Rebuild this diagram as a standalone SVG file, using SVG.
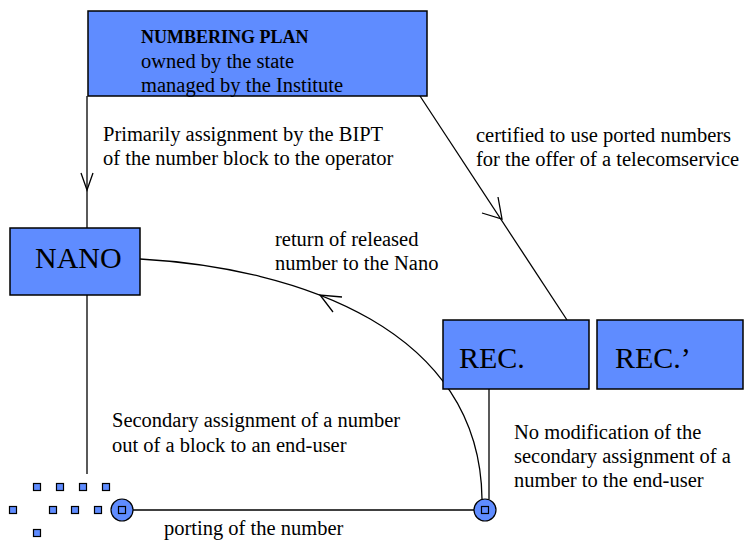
<svg xmlns="http://www.w3.org/2000/svg" width="744" height="540" viewBox="0 0 744 540">
<style>
.box{fill:#5f8cff;stroke:#000;stroke-width:1.5}
.ln{fill:none;stroke:#000;stroke-width:1.3}
.t{font-family:"Liberation Serif","Times New Roman",serif;font-size:20.5px;fill:#000}
.tb{font-family:"Liberation Serif","Times New Roman",serif;font-size:18px;font-weight:bold;fill:#000}
.big{font-family:"Liberation Serif","Times New Roman",serif;font-size:30px;fill:#000}
.dot{fill:#5f8cff;stroke:#000;stroke-width:1.2}
</style>
<rect width="744" height="540" fill="#fff"/>
<g id="connectors">
<line class="ln" x1="87" y1="96" x2="87" y2="228"/>
<polyline class="ln" points="81,173 87,190 93,173"/>
<line class="ln" x1="420" y1="96" x2="567" y2="320"/>
<polyline class="ln" points="482,213 502,219 498,197"/>
<line class="ln" x1="87" y1="295" x2="87" y2="474"/>
<path class="ln" d="M140,259 C300,268 480,330 482,499"/>
<polyline class="ln" points="342,297 320,295 333,312"/>
<line class="ln" x1="489" y1="389" x2="489" y2="499"/>
<line class="ln" x1="133" y1="510" x2="474" y2="510"/>
</g>
<g id="plan">
<rect class="box" x="88" y="11" width="339" height="85"/>
<text class="tb" x="141" y="43">NUMBERING PLAN</text>
<text class="t" x="141" y="68">owned by the state</text>
<text class="t" x="141" y="92">managed by the Institute</text>
</g>
<g id="nano">
<rect class="box" x="10" y="228" width="130" height="67"/>
<text class="big" x="35" y="268">NANO</text>
</g>
<g id="rec">
<rect class="box" x="443" y="320" width="146" height="69"/>
<text class="big" x="459" y="368">REC.</text>
</g>
<g id="rec2">
<rect class="box" x="597" y="320" width="146" height="69"/>
<text class="big" x="615" y="368">REC.’</text>
</g>
<g id="node-left">
<circle class="dot" cx="122" cy="510" r="11"/>
<rect class="dot" x="118.5" y="506.5" width="7" height="7"/>
</g>
<g id="node-right">
<circle class="dot" cx="485" cy="510" r="11"/>
<rect class="dot" x="481.5" y="506.5" width="7" height="7"/>
</g>
<g id="dots">
<rect class="dot" x="33.5" y="483.5" width="7" height="7"/>
<rect class="dot" x="56.5" y="483.5" width="7" height="7"/>
<rect class="dot" x="79.5" y="483.5" width="7" height="7"/>
<rect class="dot" x="102.5" y="483.5" width="7" height="7"/>
<rect class="dot" x="9.5" y="506.5" width="7" height="7"/>
<rect class="dot" x="49.5" y="506.5" width="7" height="7"/>
<rect class="dot" x="71.5" y="506.5" width="7" height="7"/>
<rect class="dot" x="94.5" y="506.5" width="7" height="7"/>
<rect class="dot" x="33.5" y="529.5" width="7" height="7"/>
</g>
<g id="labels">
<text class="t" x="103" y="141">Primarily assignment by the BIPT</text>
<text class="t" x="103" y="165">of the number block to the operator</text>
<text class="t" x="476" y="142">certified to use ported numbers</text>
<text class="t" x="476" y="166">for the offer of a telecomservice</text>
<text class="t" x="275" y="246">return of released</text>
<text class="t" x="275" y="270">number to the Nano</text>
<text class="t" x="112" y="427">Secondary assignment of a number</text>
<text class="t" x="112" y="452">out of a block to an end-user</text>
<text class="t" x="514" y="439">No modification of the</text>
<text class="t" x="514" y="463">secondary assignment of a</text>
<text class="t" x="514" y="487">number to the end-user</text>
<text class="t" x="164" y="535">porting of the number</text>
</g>
</svg>
